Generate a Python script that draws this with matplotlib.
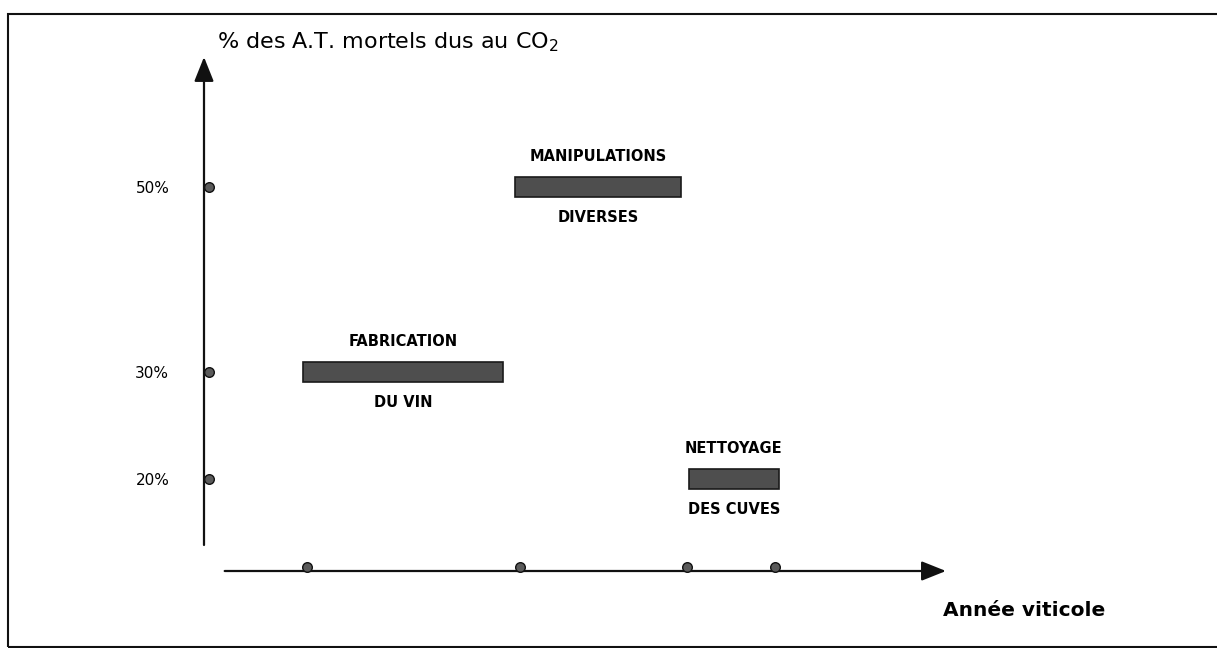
import numpy as np
import matplotlib
matplotlib.use('Agg')
import matplotlib.pyplot as plt
from matplotlib.patches import Rectangle
import matplotlib.transforms as mtransforms

labels_haut = ['FABRICATION', 'MANIPULATIONS', 'NETTOYAGE']
labels_bas = ['DU VIN', 'DIVERSES', 'DES CUVES']
pourcentages = [30, 50, 20]
debut = [13.4, 42.1, 65.6]
fin = [40.4, 64.6, 77.8]
reperes_x = [14.0, 42.8, 65.3, 77.3]
reperes_y = [20, 30, 50]
labels_y = ['20%', '30%', '50%']

W, H = 1217, 648
expo = 0.7


def fwd(y):
    return np.power(np.clip(y, 1e-9, None), expo)


def inv(y):
    return np.power(np.clip(y, 1e-9, None), 1 / expo)


fig = plt.figure(figsize=(W / 100, H / 100), dpi=100)
ax = fig.add_axes([204 / W, 77 / H, 739 / W, 514 / H])
ax.set_yscale('function', functions=(fwd, inv))
ax.set_xlim(0, 100)
ax.set_ylim(12.43, 65.7)
for s in ax.spines.values():
    s.set_visible(False)
ax.set_xticks([])
ax.set_yticks(reperes_y, labels_y, fontsize=11)
ax.tick_params(axis='y', length=0, pad=25)
ax.minorticks_off()

y0 = ax.get_ylim()[0]

# Axes avec flèches
style = dict(arrowstyle='-|>,head_length=15,head_width=6', mutation_scale=1,
             lw=1.6, color='#111111', shrinkA=0, shrinkB=0)
ax.annotate('', xy=(0, 65.7), xytext=(0, 14.46), arrowprops=style,
            annotation_clip=False)
ax.annotate('', xy=(100.4, y0), xytext=(2.8, y0), arrowprops=style,
            annotation_clip=False)

# Barres des périodes
for lh, lb, v, a, b in zip(labels_haut, labels_bas, pourcentages, debut, fin):
    f = fwd(v)
    lo, hi = inv(f - 0.25), inv(f + 0.25)
    ax.barh(lo, b - a, height=hi - lo, left=a, align='edge',
            color='#4e4e4e', edgecolor='#1a1a1a', lw=1.2, zorder=3)
    xc = (a + b) / 2
    ax.annotate(lh, (xc, v), xytext=(0, 22), textcoords='offset points',
                ha='center', va='center', fontsize=10.5, weight='bold')
    ax.annotate(lb, (xc, v), xytext=(0, -22), textcoords='offset points',
                ha='center', va='center', fontsize=10.5, weight='bold')

# Points repères sur les axes
off_y = mtransforms.offset_copy(ax.transData, fig=fig, x=5, y=0, units='dots')
ax.scatter([0] * len(reperes_y), reperes_y, s=48, color='#5a5a5a',
           edgecolor='#111111', lw=1, transform=off_y, clip_on=False, zorder=4)
off_x = mtransforms.offset_copy(ax.transData, fig=fig, x=0, y=4, units='dots')
ax.scatter(reperes_x, [y0] * len(reperes_x), s=48, color='#5a5a5a',
           edgecolor='#111111', lw=1, transform=off_x, clip_on=False, zorder=4)

# Titres
fig.text(217 / W, 1 - 42 / H, '% des A.T. mortels dus au CO$_2$', fontsize=16,
         va='center', ha='left')
fig.text(943 / W, 1 - 610 / H, 'Année viticole', fontsize=14.5, weight='bold',
         va='center', ha='left')

# Cadre
fig.add_artist(Rectangle((8 / W, 1.5 / H), 1.0, (H - 14 - 1.5) / H,
                         transform=fig.transFigure, fill=False, lw=1.5,
                         ec='#111111'))

fig.savefig('out.png', dpi=100)
